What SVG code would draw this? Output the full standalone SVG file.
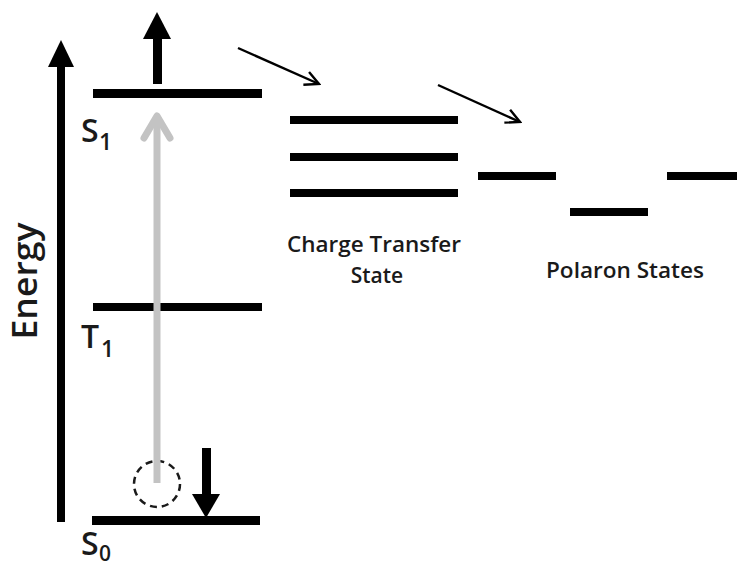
<svg xmlns="http://www.w3.org/2000/svg" width="737" height="567" viewBox="0 0 737 567">
<defs>
<style>
.lvl{fill:#000}
.lbl{font-family:"Open Sans","Liberation Sans",sans-serif;fill:#1a1a1a;font-weight:600}
.cap{font-family:"Open Sans","Liberation Sans",sans-serif;fill:#1a1a1a;font-size:21px;font-weight:600}
.thin{stroke:#000;stroke-width:2.4;fill:none}
</style>
<marker id="chev" markerUnits="userSpaceOnUse" viewBox="-16 -9 18 18" markerWidth="18" markerHeight="18" refX="0" refY="0" orient="auto">
<path d="M-14,-7 L0,0 L-14,7" fill="none" stroke="#000" stroke-width="2.4"/>
</marker>
</defs>
<rect width="737" height="567" fill="#fff"/>

<g id="energy-axis">
<rect x="57" y="64" width="8" height="458" fill="#000"/>
<polygon points="61,40 48,67 74,67" fill="#000"/>
<text class="lbl" font-size="35" text-anchor="middle" transform="translate(37,281) rotate(-90)" textLength="117" lengthAdjust="spacingAndGlyphs">Energy</text>
</g>

<g id="S1">
<rect class="lvl" x="93" y="89" width="169" height="9"/>
<text class="lbl" x="81" y="142" font-size="32">S</text>
<text class="lbl" x="99" y="150" font-size="23">1</text>
</g>

<g id="T1">
<rect class="lvl" x="93" y="303" width="169" height="8"/>
<text class="lbl" x="81" y="348" font-size="32">T</text>
<text class="lbl" x="101" y="357" font-size="23">1</text>
</g>

<g id="S0">
<rect class="lvl" x="92" y="516" width="168" height="9"/>
<text class="lbl" x="81" y="555" font-size="32">S</text>
<text class="lbl" x="99" y="561" font-size="21">0</text>
</g>

<g id="CT">
<rect class="lvl" x="290" y="116" width="168" height="8"/>
<rect class="lvl" x="290" y="153" width="168" height="8"/>
<rect class="lvl" x="290" y="189" width="168" height="8"/>
<text class="cap" x="374" y="252" text-anchor="middle" textLength="174" lengthAdjust="spacingAndGlyphs">Charge Transfer</text>
<text class="cap" x="377" y="283" text-anchor="middle">State</text>
</g>

<g id="polaron">
<rect class="lvl" x="478" y="172" width="78" height="8"/>
<rect class="lvl" x="570" y="208" width="78" height="8"/>
<rect class="lvl" x="667" y="172" width="72" height="8"/>
<text class="cap" x="625" y="278" text-anchor="middle" textLength="158" lengthAdjust="spacingAndGlyphs">Polaron States</text>
</g>

<g id="hole">
<circle cx="157" cy="484" r="23" fill="none" stroke="#1a1a1a" stroke-width="2.5" stroke-dasharray="7,5"/>
</g>

<g id="connectors">
<line x1="157" y1="483" x2="157" y2="117" stroke="#c3c3c3" stroke-width="7"/>
<polyline points="144,138 157,116 170,138" fill="none" stroke="#c3c3c3" stroke-width="7" stroke-linecap="round" stroke-linejoin="round"/>
<rect x="153" y="36" width="9" height="48" fill="#000"/>
<polygon points="157,12 143,39 171,39" fill="#000"/>
<rect x="202" y="448" width="9" height="48" fill="#000"/>
<polygon points="192,494 220,494 206,518" fill="#000"/>
<line class="thin" x1="238" y1="48" x2="319" y2="84" marker-end="url(#chev)"/>
<line class="thin" x1="438" y1="85" x2="520" y2="122" marker-end="url(#chev)"/>
</g>
</svg>
